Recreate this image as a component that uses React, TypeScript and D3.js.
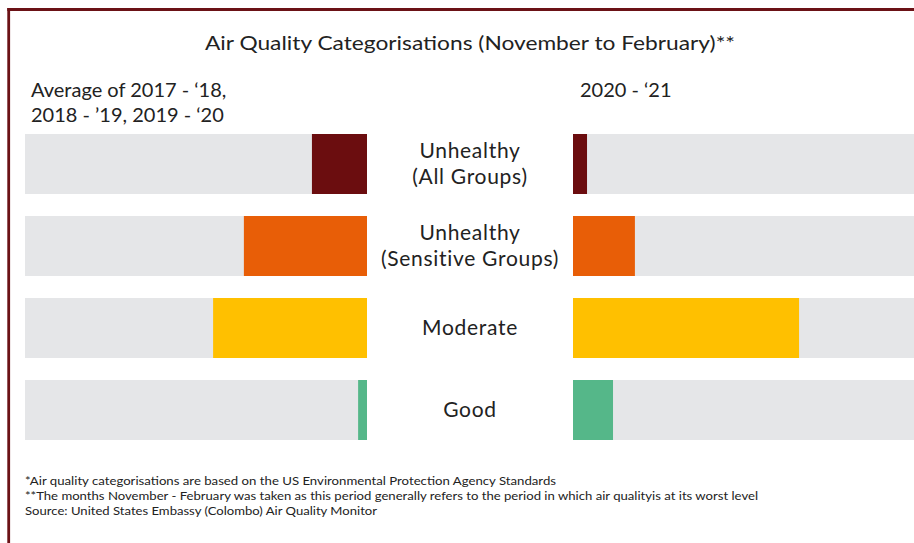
import React from "react";
import * as d3 from "d3";

const categories = ["Unhealthy|(All Groups)", "Unhealthy|(Sensitive Groups)", "Moderate", "Good"];
const avgValues = [16.1, 36, 45, 2.6];
const recentValues = [4.1, 18.1, 66.1, 11.7];
const colors = ["#6b0d0f", "#e85e07", "#ffc000", "#55b789"];
const title = "Air Quality Categorisations (November to February)**";
const leftHeader = ["Average of 2017 - \u201818,", "2018 - \u201919, 2019 - \u201820"];
const rightHeader = ["2020 - \u201821"];
const footnotes = [
  "*Air quality categorisations are based on the US Environmental Protection Agency Standards",
  "**The months November - February was taken as this period generally refers to the period in which air qualityis at its worst level",
  "Source: United States Embassy (Colombo) Air Quality Monitor",
];
const footnoteWidths = [531, 733, 352];

const W = 914;
const H = 543;
const FONT = "Lato, 'Open Sans', sans-serif";

export default function App() {
  const x = d3.scaleLinear().domain([0, 100]).range([0, 342]);
  const y = d3
    .scaleBand<number>()
    .domain(d3.range(categories.length))
    .range([134, 440])
    .paddingInner(22 / 82)
    .paddingOuter(0);
  const leftEnd = 367;
  const rightStart = 573;
  const bw = y.bandwidth();
  return (
    <svg width={W} height={H} style={{ position: "absolute", left: 0, top: 0, background: "#fff" }} fontFamily={FONT}>
      <rect width={W} height={H} fill="#fff" />
      <line x1={8.7} x2={8.7} y1={8} y2={H} stroke="#6b1216" strokeWidth={2.8} />
      <line x1={7.3} x2={W} y1={9.5} y2={9.5} stroke="#6b1216" strokeWidth={2.8} />
      <text x={470} y={50} textAnchor="middle" fontSize={20} fill="#222" textLength={530} lengthAdjust="spacingAndGlyphs">{title}</text>
      {leftHeader.map((t, i) => (
        <text key={t} x={31} y={97 + i * 25} fontSize={20} fill="#222">{t}</text>
      ))}
      {rightHeader.map((t, i) => (
        <text key={t} x={580} y={97 + i * 25} fontSize={20} fill="#222">{t}</text>
      ))}
      {categories.map((c, i) => {
        const y0 = y(i)!;
        const lines = c.split("|");
        const cy = y0 + bw / 2;
        return (
          <g key={c}>
            <rect x={leftEnd - x(100)} y={y0} width={x(100)} height={bw} fill="#e5e6e8" />
            <rect x={leftEnd - x(avgValues[i])} y={y0} width={x(avgValues[i])} height={bw} fill={colors[i]} />
            <rect x={rightStart} y={y0} width={x(100)} height={bw} fill="#e5e6e8" />
            <rect x={rightStart} y={y0} width={x(recentValues[i])} height={bw} fill={colors[i]} />
            {lines.map((l, j) => (
              <text
                key={l}
                x={470}
                y={cy + 7 + (j - (lines.length - 1) / 2) * 26}
                textAnchor="middle"
                fontSize={21}
                letterSpacing={0.7}
                fill="#222"
              >
                {l}
              </text>
            ))}
          </g>
        );
      })}
      {footnotes.map((f, i) => (
        <text
          key={i}
          x={25}
          y={485 + i * 15}
          fontSize={12}
          fill="#222"
          textLength={footnoteWidths[i]}
          lengthAdjust="spacingAndGlyphs"
        >
          {f}
        </text>
      ))}
    </svg>
  );
}
